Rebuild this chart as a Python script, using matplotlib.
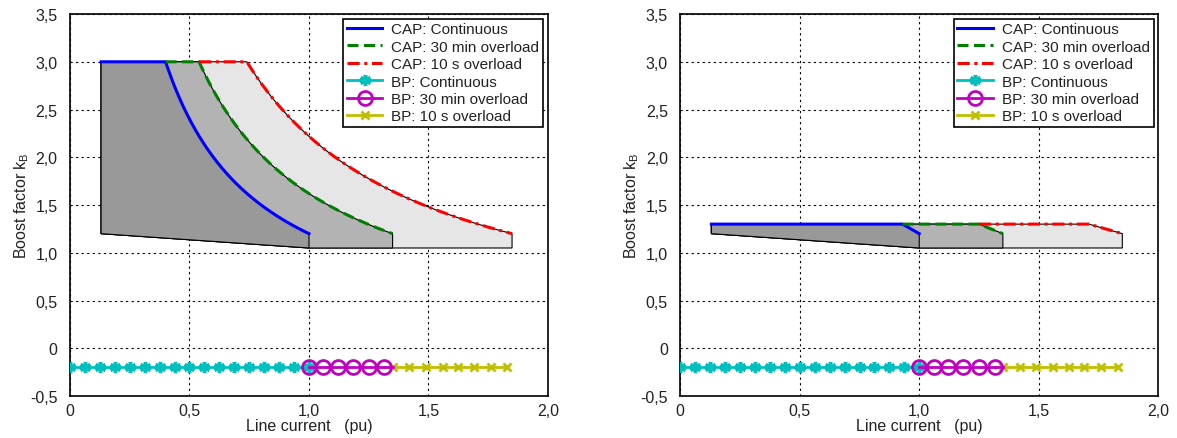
import numpy as np
import matplotlib.pyplot as plt
from matplotlib.ticker import FuncFormatter

plt.rcParams["font.family"] = ["Liberation Sans", "DejaVu Sans"]

# CAP limits: flat cap until k = c / I reaches it, then hyperbola down to k = 1.2
cap_start = 0.13
cap_k_max_left = 3.0
cap_k_max_right = 1.3
cap_k_end = 1.2
cap_i_end = [1.0, 1.35, 1.85]          # continuous, 30 min, 10 s
cap_knee_right = [0.93, 1.25, 1.71]    # start of slope on right chart
cap_bottom = [1.2, 1.05]               # bottom edge at I=0.13 and I=1.0

# BP operating points (pu)
bp_cont_x = [0, 0.0625, 0.125, 0.1875, 0.25, 0.3125, 0.375, 0.4375, 0.5, 0.5625,
             0.625, 0.6875, 0.75, 0.8125, 0.875, 0.9375, 1.0]
bp_30min_x = [1.0, 1.06, 1.12, 1.185, 1.25, 1.315]
bp_10s_x = [1.35, 1.42, 1.49, 1.56, 1.625, 1.69, 1.76, 1.83]
bp_y = -0.2

labels = ["CAP: Continuous", "CAP: 30 min overload", "CAP: 10 s overload",
          "BP: Continuous", "BP: 30 min overload", "BP: 10 s overload"]
fills = ["#999999", "#b3b3b3", "#e6e6e6"]


def comma(v, pos):
    if abs(v) < 1e-9:
        return "0"
    return ("%.1f" % v).replace(".", ",")


def left_curve(i_end, n=200):
    c = cap_k_end * i_end
    knee = c / cap_k_max_left
    x = np.concatenate([[cap_start], np.linspace(knee, i_end, n)])
    y = np.concatenate([[cap_k_max_left], c / x[1:]])
    return x, y


def right_curve(i_end, knee):
    x = np.array([cap_start, knee, i_end])
    y = np.array([cap_k_max_right, cap_k_max_right, cap_k_end])
    return x, y


def bottom_at(x):
    return np.where(x <= 1.0,
                    cap_bottom[0] + (cap_bottom[1] - cap_bottom[0]) * (x - cap_start) / (1.0 - cap_start),
                    cap_bottom[1])


def draw(ax, curves):
    # shaded regions, widest first
    for (x, y), col in reversed(list(zip(curves, fills))):
        xs = np.concatenate([x, [x[-1]], [1.0] if x[-1] > 1.0 else [], [cap_start]])
        ys = np.concatenate([y, bottom_at(np.array([x[-1]])),
                             [cap_bottom[1]] if x[-1] > 1.0 else [], [cap_bottom[0]]])
        ax.fill(xs, ys, facecolor=col, edgecolor="k", lw=0.8, zorder=2)
    styles = [("b", "-"), ("g", (0, (3.6, 1.8))), ("r", (0, (4, 1.5, 1, 1.5)))]
    hs = []
    prev_knee = cap_start
    for (x, y), (c, ls), lab in zip(curves, styles, labels[:3]):
        # each line starts where the previous one leaves the flat top
        top = y[0]
        knee = x[1]
        keep = x >= knee
        xs = np.concatenate([[prev_knee], x[keep]])
        ys = np.concatenate([[top], y[keep]])
        h, = ax.plot(xs, ys, color=c, ls=ls, lw=2.2, label=lab, zorder=4)
        hs.append(h)
        prev_knee = knee
    h1, = ax.plot(bp_cont_x, [bp_y] * len(bp_cont_x), color="#00bfbf", marker=(6, 2, 0),
                  ms=8, mew=2.5, lw=2, label=labels[3], zorder=4)
    h3, = ax.plot(bp_10s_x, [bp_y] * len(bp_10s_x), color="#bfbf00", marker="x",
                  ms=6, mew=2, lw=2, label=labels[5], zorder=4)
    ax.plot([bp_30min_x[-1], 1.35], [bp_y] * 2, color="#bf00bf", lw=2, zorder=5)
    h2, = ax.plot(bp_30min_x, [bp_y] * len(bp_30min_x), color="#bf00bf", marker="o",
                  ms=10, mfc="none", mew=2, lw=2, label=labels[4], zorder=5)
    ax.set_xlim(0, 2)
    ax.set_ylim(-0.5, 3.5)
    ax.set_xticks(np.arange(0, 2.01, 0.5))
    ax.set_yticks(np.arange(-0.5, 3.51, 0.5))
    ax.xaxis.set_major_formatter(FuncFormatter(comma))
    ax.yaxis.set_major_formatter(FuncFormatter(comma))
    ax.tick_params(labelsize=11.5, direction="in", length=0, labelcolor="#222222")
    ax.tick_params(axis="x", pad=5)
    ax.tick_params(axis="y", pad=9)
    ax.grid(True, color="k", ls=(0, (2, 3)), lw=0.8)
    ax.set_axisbelow(True)
    ax.set_xlabel("Line current   (pu)", fontsize=11.5, labelpad=0, color="#222222")
    ax.set_ylabel("Boost factor k$_\\mathregular{B}$", fontsize=11.5, color="#222222")
    ax.yaxis.set_label_coords(-0.082, 0.5)
    leg = ax.legend(hs + [h1, h2, h3], labels, loc="upper right", fontsize=11,
                    fancybox=False, edgecolor="k", framealpha=1, borderaxespad=0.3,
                    handlelength=2.3, handletextpad=0.6, labelspacing=0.22, borderpad=0.25)
    leg.get_frame().set_linewidth(1.2)
    for t in leg.get_texts():
        t.set_color("#222222")
    for s in ax.spines.values():
        s.set_linewidth(1.2)


fig = plt.figure(figsize=(11.77, 4.39), dpi=100)
ax1 = fig.add_axes([0.0595, 0.0957, 0.406, 0.87])
ax2 = fig.add_axes([0.578, 0.0957, 0.406, 0.87])

draw(ax1, [left_curve(e) for e in cap_i_end])
draw(ax2, [right_curve(e, k) for e, k in zip(cap_i_end, cap_knee_right)])

fig.savefig("out.png", dpi=100)
